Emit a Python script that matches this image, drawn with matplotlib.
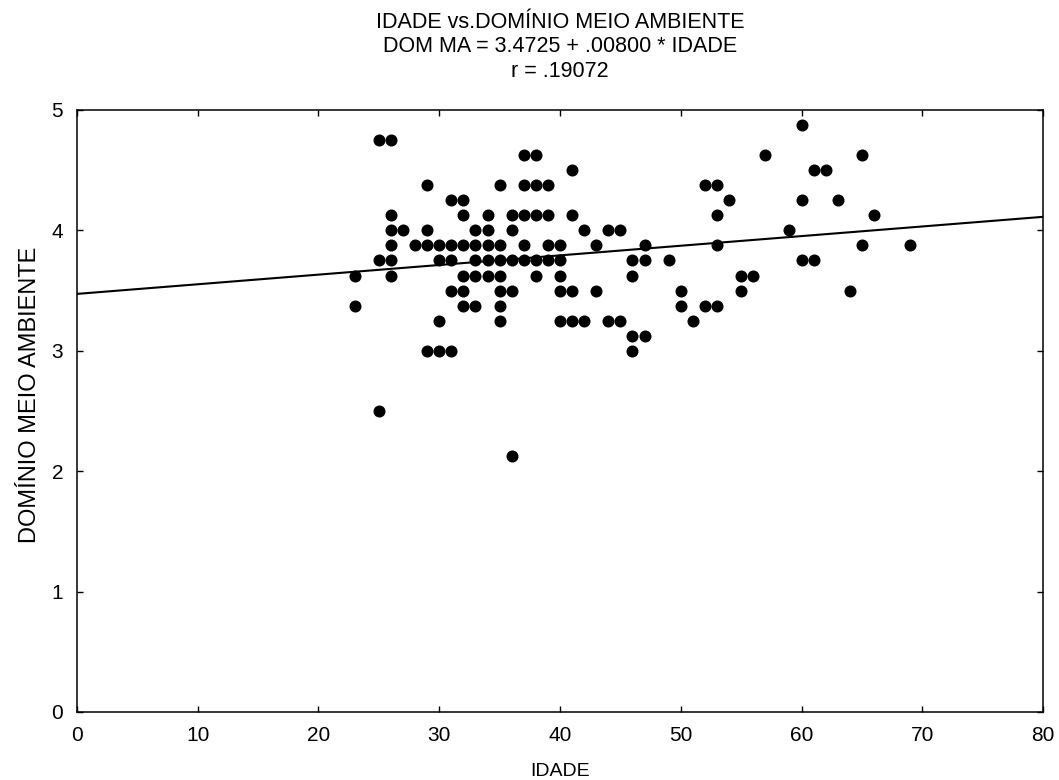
import numpy as np
import matplotlib.pyplot as plt

plt.rcParams['font.family'] = ['Liberation Sans', 'DejaVu Sans']

# idade de cada respondente e escore do dominio meio ambiente
idade = [23, 23,
         25, 25, 25,
         26, 26, 26, 26, 26, 26,
         27, 28,
         29, 29, 29, 29,
         30, 30, 30, 30,
         31, 31, 31, 31, 31,
         32, 32, 32, 32, 32, 32,
         33, 33, 33, 33, 33,
         34, 34, 34, 34, 34,
         35, 35, 35, 35, 35, 35, 35,
         36, 36, 36, 36, 36,
         37, 37, 37, 37, 37,
         38, 38, 38, 38, 38,
         39, 39, 39, 39,
         40, 40, 40, 40, 40,
         41, 41, 41, 41,
         42, 42, 43, 43, 44, 44, 45, 45,
         46, 46, 46, 46,
         47, 47, 47,
         49, 50, 50, 51,
         52, 52,
         53, 53, 53, 53,
         54, 55, 55, 56, 57, 59,
         60, 60, 60,
         61, 61, 62, 63, 64, 65, 65, 66, 69]
dom_ma = [3.625, 3.375,
          4.75, 3.75, 2.5,
          4.75, 4.125, 4.0, 3.875, 3.75, 3.625,
          4.0, 3.875,
          4.375, 4.0, 3.875, 3.0,
          3.875, 3.75, 3.25, 3.0,
          4.25, 3.875, 3.75, 3.5, 3.0,
          4.25, 4.125, 3.875, 3.625, 3.5, 3.375,
          4.0, 3.875, 3.75, 3.625, 3.375,
          4.125, 4.0, 3.875, 3.75, 3.625,
          4.375, 3.875, 3.75, 3.625, 3.5, 3.375, 3.25,
          4.125, 4.0, 3.75, 3.5, 2.125,
          4.625, 4.375, 4.125, 3.875, 3.75,
          4.625, 4.375, 4.125, 3.75, 3.625,
          4.375, 4.125, 3.875, 3.75,
          3.875, 3.75, 3.625, 3.5, 3.25,
          4.5, 4.125, 3.5, 3.25,
          4.0, 3.25, 3.875, 3.5, 4.0, 3.25, 4.0, 3.25,
          3.75, 3.625, 3.125, 3.0,
          3.875, 3.75, 3.125,
          3.75, 3.5, 3.375, 3.25,
          4.375, 3.375,
          4.375, 4.125, 3.875, 3.375,
          4.25, 3.625, 3.5, 3.625, 4.625, 4.0,
          4.875, 4.25, 3.75,
          4.5, 3.75, 4.5, 4.25, 3.5, 4.625, 3.875, 4.125, 3.875]

# reta de regressao
a, b = 3.4725, 0.00800
x_reta = np.array([0, 80])

fig = plt.figure(figsize=(10.59, 7.8), dpi=100)
ax = fig.add_axes([0.0727, 0.0872, 0.9122, 0.7718])

ax.scatter(idade, dom_ma, s=75, color='black', zorder=3, linewidths=0)
ax.plot(x_reta, a + b * x_reta, color='black', linewidth=1.5, zorder=2)

ax.set_xlim(0, 80)
ax.set_ylim(0, 5)
ax.set_xticks(range(0, 81, 10))
ax.set_yticks(range(0, 6))
ax.tick_params(direction='in', length=4, width=1, top=True, right=True,
               labelsize=15, pad=10)
for s in ax.spines.values():
    s.set_linewidth(1.1)

ax.set_xlabel('IDADE', fontsize=14, labelpad=13)
ax.set_ylabel('DOMÍNIO MEIO AMBIENTE', fontsize=17)
ax.yaxis.set_label_coords(-0.0375, 0.527)
ax.set_title('IDADE vs.DOMÍNIO MEIO AMBIENTE\nDOM MA = 3.4725 + .00800 * IDADE\nr = .19072',
             fontsize=15.5, linespacing=1.22, pad=24)

fig.savefig('out.png', dpi=100)
